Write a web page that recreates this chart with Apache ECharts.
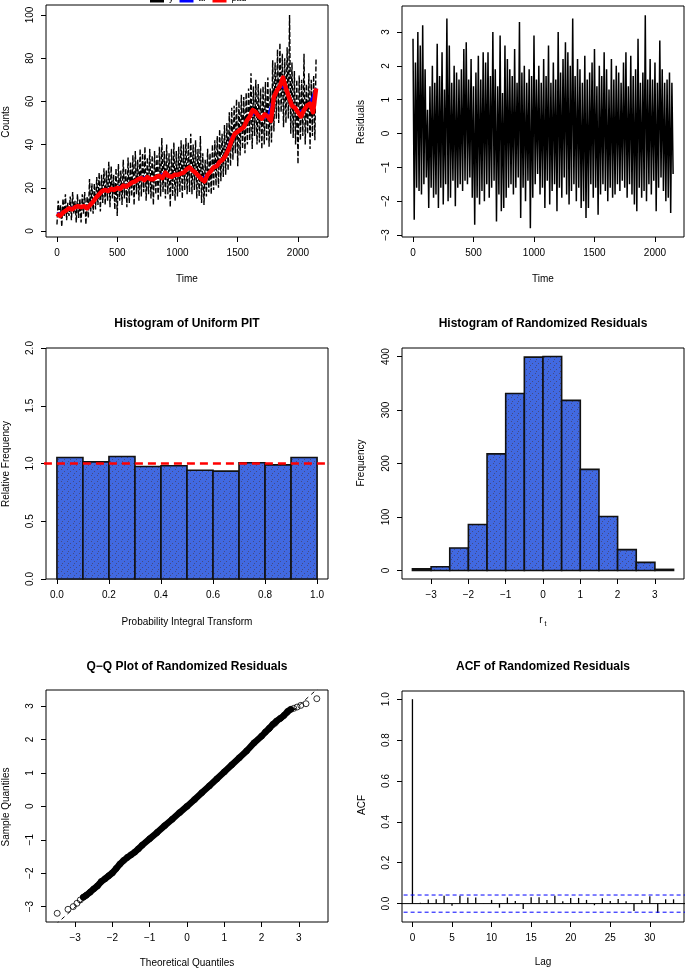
<!DOCTYPE html>
<html><head><meta charset="utf-8">
<script src="https://cdn.jsdelivr.net/npm/echarts@6/dist/echarts.min.js"></script>
<style>html,body{margin:0;padding:0;background:#fff}#c{width:685px;height:970px}</style>
</head><body><div id="c"></div>
<script>
// ---------------- DATA ----------------
const countsStep = 10;
const countsObserved = [
  3,14,6,12,2,15,7,17,5,13,
  7,16,5,18,8,14,4,17,6,15,
  4,17,8,18,3,16,6,24,9,22,
  8,22,10,25,12,27,9,26,13,29,
  12,28,14,32,11,30,15,26,10,29,
  7,31,14,28,12,33,15,29,11,34,
  13,32,16,35,12,37,17,33,14,38,
  16,36,18,39,14,34,17,38,15,35,
  12,37,17,35,14,39,16,43,18,37,
  15,40,17,36,11,38,16,41,14,37,
  16,39,18,42,15,40,19,43,17,41,
  18,45,17,40,19,42,15,38,16,44,
  13,36,12,33,16,38,18,36,17,40,
  19,42,21,44,20,47,23,45,25,49,
  26,50,28,55,30,57,33,58,36,61,
  30,60,35,63,38,62,36,64,40,66,
  42,73,38,67,44,70,40,68,41,66,
  38,67,40,69,42,71,39,66,41,79,
  46,78,52,84,50,87,55,82,48,80,
  50,85,52,100,45,78,43,74,40,70,
  31,72,42,70,44,82,40,68,45,73,
  38,70,44,72,42,80
];
const fitStep = 25;
const countsFitted = [
  8,7,8.5,9.5, 10.5,10,11,11.5, 11,11.5,10.5,12, 13.5,15.5,17,18.5,
  19,18.5,19.5,19, 20,19.5,21,20.5, 21.5,22.5,23,24, 24.5,23.5,25,24,
  24,25,25.5,24.5, 27,25.5,25,26, 26,26.5,27,28.5, 29.5,28,27,25.5,
  24,23,26,27.5, 29.5,30,32,33, 35,38,42,45, 46,47,48,51,
  53,56,55,53, 52,54,53,51, 62,65,67,71, 66,62,58,57,
  55,53,56,58, 59,55,66
];
const arStep = 50;
const countsAr = [
  8,8.5,10.5,11,11.5,10.5,13.5,17,19,19.5,20,21,21.5,23,24.5,25,24,25.5,27,25,
  26,27,29.5,27,24,26,29.5,32,35,43.5,46,48,53,55,52,53,62,67,66,58,55,56,59,66
];
const residStep = 10;
const residuals = [
  2.8,-2.55,2.1,-1.6,3.0,-1.7,2.6,-1.8,3.2,-1.5,
  1.9,-1.3,0.7,-2.2,1.4,-1.6,2.0,-1.9,1.5,-1.8,
  2.65,-2.2,1.7,-1.6,2.4,-2.1,1.3,-1.5,3.4,-2.0,
  2.6,-1.9,1.5,-1.4,2.0,-2.15,1.8,-1.6,1.6,-1.5,
  1.9,-1.7,2.5,-1.4,2.7,-1.5,1.6,-1.3,2.2,-1.9,
  1.4,-2.7,1.8,-1.9,2.3,-2.1,1.6,-1.7,2.4,-2.0,
  2.1,-1.5,2.4,-1.9,1.7,-1.6,3.0,-1.4,1.9,-2.6,
  1.4,-1.8,2.9,-2.3,1.2,-2.2,2.6,-1.9,2.2,-1.6,
  1.9,-1.5,1.7,-1.8,2.5,-1.6,1.5,-1.3,3.3,-2.5,
  1.8,-1.6,2.0,-2.0,1.5,-1.4,1.9,-2.8,1.7,-1.9,
  2.9,-1.5,1.6,-1.2,2.0,-1.8,1.5,-1.6,2.2,-2.2,
  1.7,-1.4,2.6,-2.1,1.5,-1.7,2.1,-1.5,1.6,-2.3,
  3.0,-1.6,1.8,-1.9,2.2,-1.3,2.7,-1.8,2.4,-2.1,
  2.0,-1.7,3.4,-1.5,1.7,-2.0,2.2,-1.6,1.9,-2.2,
  1.5,-2.0,2.3,-2.5,1.6,-2.2,1.8,-1.5,2.1,-1.9,
  2.5,-1.6,1.4,-2.4,2.0,-1.8,1.7,-1.5,2.4,-1.7,
  1.9,-2.0,1.3,-1.6,2.2,-1.9,1.6,-1.8,2.0,-1.5,
  1.8,-1.7,1.5,-1.4,2.1,-1.6,2.4,-1.9,1.4,-1.5,
  2.3,-1.8,1.7,-2.1,1.9,-2.3,2.8,-1.6,1.5,-1.9,
  1.8,-1.7,3.5,-2.0,1.6,-1.5,2.2,-1.8,1.6,-1.4,
  2.1,-2.3,1.5,-1.6,2.75,-1.3,1.9,-1.7,1.5,-2.0,
  1.6,-1.9,1.8,-2.35,1.5,-1.2
];
const pitBinEdges = [0,0.1,0.2,0.3,0.4,0.5,0.6,0.7,0.8,0.9,1.0];
const pitRelFreq = [1.052,1.014,1.06,0.974,0.98,0.942,0.934,1.006,0.988,1.052];
const pitReference = 1.0;
const rrBinEdges = [-3.5,-3,-2.5,-2,-1.5,-1,-0.5,0,0.5,1,1.5,2,2.5,3,3.5];
const rrCounts = [3,7,42,86,218,331,399,400,318,189,101,39,15,2];
const qqTheoretical = [-3.48,-3.19,-3.05,-2.95,-2.86,-2.78,-2.7,-2.6,-2.5,-2.4,-2.3,-2.2,-2.1,-2.0,-1.9,-1.8,-1.7,-1.6,-1.5,-1.4,-1.3,-1.2,-1.0,-0.8,-0.6,-0.4,-0.2,0,0.2,0.4,0.6,0.8,1.0,1.2,1.4,1.6,1.8,2.0,2.1,2.2,2.3,2.4,2.5,2.6,2.7,2.78,2.86,2.95,3.05,3.19,3.48];
const qqSample = [-3.2,-3.08,-3.0,-2.9,-2.8,-2.72,-2.66,-2.57,-2.47,-2.38,-2.25,-2.17,-2.08,-1.99,-1.86,-1.73,-1.62,-1.53,-1.45,-1.37,-1.27,-1.16,-0.97,-0.78,-0.58,-0.39,-0.19,0.0,0.2,0.41,0.61,0.82,1.03,1.24,1.45,1.66,1.9,2.1,2.22,2.33,2.45,2.55,2.63,2.72,2.84,2.9,2.93,2.97,3.02,3.07,3.22];
const qqLine = [[-4,-4.02],[4,4.02]];
const acfLags = [0,1,2,3,4,5,6,7,8,9,10,11,12,13,14,15,16,17,18,19,20,21,22,23,24,25,26,27,28,29,30,31,32,33];
const acfValues = [1,0.004,0.02,0.021,0.039,-0.01,0.039,0.03,0.03,0.002,0.018,-0.02,0.03,0.013,-0.026,0.031,0.031,0.018,0.039,0.011,0.028,0.028,0.018,-0.008,0.026,0.013,0.023,0.011,-0.036,0.016,0.036,-0.046,0.021,0.021];
const acfBound = 0.042;

// tick labels
const timeTicks = [0,500,1000,1500,2000];
const countTicks = [0,20,40,60,80,100];
const residTicks = [-3,-2,-1,0,1,2,3];
const pitXTicks = [0,0.2,0.4,0.6,0.8,1.0];
const pitYTicks = [0,0.5,1.0,1.5,2.0];
const rrXTicks = [-3,-2,-1,0,1,2,3];
const rrYTicks = [0,100,200,300,400];
const qqTicks = [-3,-2,-1,0,1,2,3];
const acfXTicks = [0,5,10,15,20,25,30];
const acfYTicks = [0,0.2,0.4,0.6,0.8,1.0];

// ---------------- CHART ----------------
const FONT = '"Liberation Sans", Arial, Helvetica, sans-serif';
const minus = s => String(s).replace('-', '\u2212');
const fInt = v => minus(v);
const f1 = v => minus(v.toFixed(1));

const grids = [
  {left:46, top:5, width:282, height:232},
  {left:402, top:6, width:282, height:231},
  {left:46, top:348, width:282, height:231},
  {left:402, top:348, width:282, height:231},
  {left:46, top:690, width:282, height:232},
  {left:402, top:691, width:282, height:231}
].map(g => Object.assign({show:true, borderColor:'#000', borderWidth:1, backgroundColor:'transparent'}, g));

function ax(gi, min, max, ticks, fmt, isY) {
  return {
    type:'value', gridIndex:gi, min, max, scale:true,
    position: isY ? 'left' : 'bottom',
    axisLine:{show:false, onZero:false}, splitLine:{show:false},
    axisTick:{show:true, length:5, customValues:ticks, lineStyle:{color:'#000', width:1}},
    axisLabel:{customValues:ticks, formatter:fmt, color:'#000', fontSize:10, fontFamily:FONT,
      margin: 11, rotate: isY ? 90 : 0, hideOverlap:false, showMinLabel:true, showMaxLabel:true}
  };
}
const xAxis = [
  ax(0,-91,2249,timeTicks,fInt,false),
  ax(1,-91,2240,timeTicks,fInt,false),
  ax(2,-0.042,1.042,pitXTicks,f1,false),
  ax(3,-3.78,3.78,rrXTicks,fInt,false),
  ax(4,-3.78,3.78,qqTicks,fInt,false),
  ax(5,-1.32,34.32,acfXTicks,fInt,false)
];
const yAxis = [
  ax(0,-2.78,104.6,countTicks,fInt,true),
  ax(1,-3.06,3.77,residTicks,fInt,true),
  ax(2,0,2,pitYTicks,f1,true),
  ax(3,-16,416,rrYTicks,fInt,true),
  ax(4,-3.46,3.48,qqTicks,fInt,true),
  ax(5,-0.09,1.04,acfYTicks,f1,true)
];

// histogram fill pattern (blue with sparse dark dots)
const pat = document.createElement('canvas');
pat.width = 6; pat.height = 6;
(function(){
  const c = pat.getContext('2d');
  c.fillStyle = '#4169E1'; c.fillRect(0,0,6,6);
  c.fillStyle = 'rgba(70,50,60,0.55)';
  c.fillRect(1,1,1,1); c.fillRect(4,3,1,1); c.fillRect(2,5,1,1);
})();
const fillPattern = {image: pat, repeat: 'repeat'};

function histRender(params, api) {
  const x0 = api.value(0), x1 = api.value(1), h = api.value(2);
  const p0 = api.coord([x0, h]);
  const p1 = api.coord([x1, 0]);
  return {
    type:'rect',
    shape:{x:p0[0], y:p0[1], width:p1[0]-p0[0], height:p1[1]-p0[1]},
    style:{fill:fillPattern, stroke:'#111', lineWidth:1.6}
  };
}
function acfRender(params, api) {
  const lag = api.value(0), v = api.value(1);
  const a = api.coord([lag, 0]), b = api.coord([lag, v]);
  return {type:'line', shape:{x1:a[0], y1:a[1], x2:b[0], y2:b[1]}, style:{stroke:'#000', lineWidth:1.3}};
}

const qqPairs = qqTheoretical.map((t,i) => [t, qqSample[i]]);
const qqInner = qqPairs.filter(p => Math.abs(p[0]) <= 2.8);

const series = [
  // panel 1
  {name:'y', type:'line', xAxisIndex:0, yAxisIndex:0, symbol:'none', animation:false,
   data: countsObserved.map((v,i)=>[i*countsStep, v]),
   lineStyle:{color:'#000', width:1.4, type:[5,2]}, itemStyle:{color:'#000'}},
  {name:'ar', type:'line', xAxisIndex:0, yAxisIndex:0, symbol:'none', animation:false,
   data: countsAr.map((v,i)=>[i*arStep, v]),
   lineStyle:{color:'#0000ff', width:2.5}, itemStyle:{color:'#0000ff'}},
  {name:'pad', type:'line', xAxisIndex:0, yAxisIndex:0, symbol:'none', animation:false,
   data: countsFitted.map((v,i)=>[i*fitStep, v]),
   lineStyle:{color:'#ff0000', width:4.5, join:'round'}, itemStyle:{color:'#ff0000'}},
  // panel 2
  {type:'line', xAxisIndex:1, yAxisIndex:1, symbol:'none', animation:false,
   data: residuals.map((v,i)=>[i*residStep, v]),
   lineStyle:{color:'#000', width:1.5}},
  // panel 3
  {type:'custom', xAxisIndex:2, yAxisIndex:2, renderItem:histRender, animation:false,
   encode:{x:[0,1], y:2},
   data: pitRelFreq.map((h,i)=>[pitBinEdges[i], pitBinEdges[i+1], h])},
  {type:'line', xAxisIndex:2, yAxisIndex:2, symbol:'none', animation:false,
   data:[[-0.1,pitReference],[1.1,pitReference]],
   lineStyle:{color:'#ff0000', width:2.6, type:[8,5]}},
  // panel 4
  {type:'custom', xAxisIndex:3, yAxisIndex:3, renderItem:histRender, animation:false,
   encode:{x:[0,1], y:2},
   data: rrCounts.map((h,i)=>[rrBinEdges[i], rrBinEdges[i+1], h])},
  // panel 5
  {type:'line', xAxisIndex:4, yAxisIndex:4, symbol:'none', animation:false, data: qqLine,
   lineStyle:{color:'#000', width:1, type:[4,4]}},
  {type:'line', xAxisIndex:4, yAxisIndex:4, symbol:'none', animation:false, data: qqInner,
   lineStyle:{color:'#000', width:6.5, cap:'round', join:'round'}},
  {type:'scatter', xAxisIndex:4, yAxisIndex:4, symbol:'circle', symbolSize:6, animation:false,
   data: qqPairs, itemStyle:{color:'rgba(255,255,255,0)', borderColor:'#000', borderWidth:1}},
  // panel 6
  {type:'line', xAxisIndex:5, yAxisIndex:5, symbol:'none', animation:false,
   data:[[-2,0],[35,0]], lineStyle:{color:'#000', width:1}},
  {type:'line', xAxisIndex:5, yAxisIndex:5, symbol:'none', animation:false,
   data:[[-2,acfBound],[35,acfBound]], lineStyle:{color:'#0000ff', width:1, type:[4,3]}},
  {type:'line', xAxisIndex:5, yAxisIndex:5, symbol:'none', animation:false,
   data:[[-2,-acfBound],[35,-acfBound]], lineStyle:{color:'#0000ff', width:1, type:[4,3]}},
  {type:'custom', xAxisIndex:5, yAxisIndex:5, renderItem:acfRender, animation:false,
   encode:{x:0, y:1},
   data: acfLags.map((l,i)=>[l, acfValues[i]])}
];

function txt(x, y, text, opts) {
  opts = opts || {};
  return {
    type:'text', x, y, rotation: opts.rot || 0, silent:true,
    style:{text, fill:'#000', font:(opts.bold?'bold ':'') + (opts.size||10) + 'px ' + FONT,
      textAlign:'center', textVerticalAlign:'middle'}
  };
}
const R = Math.PI/2;
const graphic = [
  txt(187,324,'Histogram of Uniform PIT',{bold:true,size:12}),
  txt(543,324,'Histogram of Randomized Residuals',{bold:true,size:12}),
  txt(187,667,'Q\u2212Q Plot of Randomized Residuals',{bold:true,size:12}),
  txt(543,667,'ACF of Randomized Residuals',{bold:true,size:12}),
  txt(187,279,'Time'),
  txt(543,279,'Time'),
  txt(187,622,'Probability Integral Transform'),
  txt(541,620,'r'),
  txt(545.5,624,'t',{size:7}),
  txt(187,963,'Theoretical Quantiles'),
  txt(543,962,'Lag'),
  txt(6,122,'Counts',{rot:R}),
  txt(361,122,'Residuals',{rot:R}),
  txt(6,464,'Relative Frequency',{rot:R}),
  txt(361,463,'Frequency',{rot:R}),
  txt(6,807,'Sample Quantiles',{rot:R}),
  txt(362,805,'ACF',{rot:R})
];

const chart = echarts.init(document.getElementById('c'), null, {renderer:'canvas'});
chart.setOption({
  animation:false,
  backgroundColor:'#fff',
  grid: grids,
  xAxis, yAxis, series, graphic,
  legend:{show:true, data:['y','ar','pad'], left:145, top:-11, itemWidth:14, itemHeight:8, itemGap:6,
    icon:'rect', textStyle:{fontSize:9, fontFamily:FONT, color:'#000'}}
});
</script></body></html>
